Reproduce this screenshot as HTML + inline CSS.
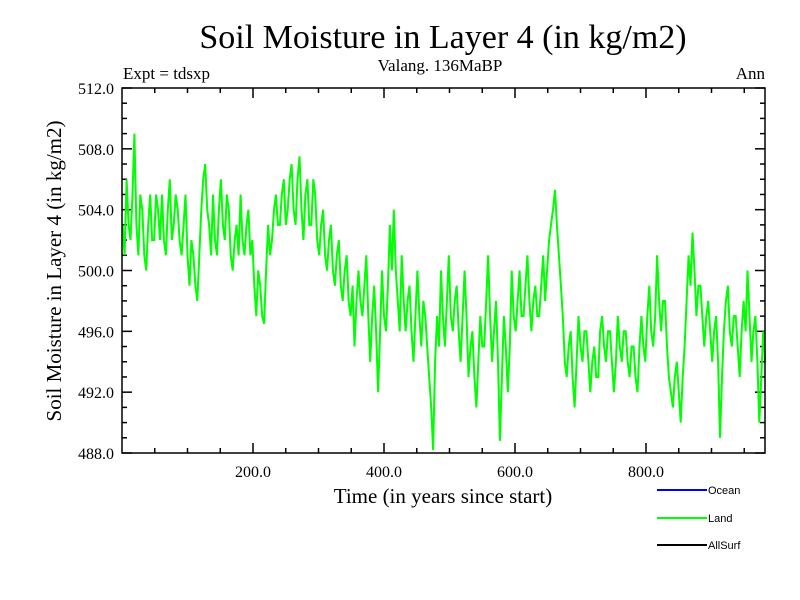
<!DOCTYPE html>
<html><head><meta charset="utf-8"><style>
body{margin:0;background:#fff}
svg{display:block;font-family:"Liberation Serif",serif}
</style></head><body>
<svg id="c" width="800" height="600">
<text x="443" y="48" font-size="34" text-anchor="middle">Soil Moisture in Layer 4 (in kg/m2)</text>
<text x="123" y="79" font-size="17">Expt = tdsxp</text>
<text x="440" y="71" font-size="17" text-anchor="middle">Valang. 136MaBP</text>
<text x="765" y="79" font-size="17" text-anchor="end">Ann</text>
<text transform="translate(61,271) rotate(-90)" font-size="21" text-anchor="middle">Soil Moisture in Layer 4 (in kg/m2)</text>
<text x="443" y="503" font-size="21" text-anchor="middle">Time (in years since start)</text>
<g id="ticks"></g>
<polyline id="series" fill="none" stroke="#00ff00" stroke-width="2"/>
<rect x="122" y="88" width="643" height="365" fill="none" stroke="#000" stroke-width="1.5"/>
<g font-family="Liberation Sans,sans-serif" font-size="11">
<line x1="657" y1="490" x2="707" y2="490" stroke="#0000ff" stroke-width="2"/>
<text x="708" y="494">Ocean</text>
<line x1="657" y1="518" x2="707" y2="518" stroke="#00ff00" stroke-width="2"/>
<text x="708" y="522">Land</text>
<line x1="657" y1="545" x2="707" y2="545" stroke="#000" stroke-width="2"/>
<text x="708" y="549">AllSurf</text>
</g>
</svg>
<script>
const values=[503,501,506,503,502,505,509,503,501,505,504,501,500,503,505,502,502,505,504,502,
505,502,501,504,506,502,503,505,504,502,501,503,505,501,499,502,501,499,498,501,
504,506,507,504,503,501,505,502,501,504,506,503,502,505,504,501,500,502,503,501,
505,502,501,503,504,501,502,499,497,500,499,497,496.5,500,503,501,502,504,505,503,
503,505,506,503,504,506,507,504,503,506,507.5,504,502,505,506,503,503,506,505,502,
501,503,504,501,500,502,503,500,499,501,502,499,498,500,501,498,497,499,495,498,
500,498,497,499,501,497,494,497,499,496,492,496,500,497,496,499,503,500,504,500,
498,496,501,498,496,498,499,496,494,497,500,497,495,498,497,495,493,491,488.2,494,
497,495,500,497,495,498,501,497,496,498,499,496,494,497,500,497,493,495,496,493,
491,494,497,495,495,498,501,497,494,496,498,494,488.8,493,497,495,492,495,500,497,
496,498,500,497,497,499,501,498,496,498,499,497,497,499,501,498,500,502,503,504,
505.3,503,501,499,497,494,493,495,496,493,491,494,497,495,494,496,496,494,492,494,
495,493,493,496,497,495,494,496,496,494,492,494,497,495,494,496,496,494,493,495,
495,493,492,495,497,495,494,497,499,496,495,497,501,498,496,498,498,495,493,492,
491,493,494,492,490,493,495,498,501,499,502.5,500,497,499,499,497,495,497,498,496,
494,496,497,494,489,493,496,498,499,496,495,497,497,495,493,496,498,496,500,497,
494,496,497,494,490,493,496,494];
const yearStep=3, yearStart=1;
const yTicks=[488,492,496,500,504,508,512];
const xTicks=[200,400,600,800];
const X0=122,X1=765,Y0=88,Y1=453,XMAX=(X1-X0)/0.655,YMIN=488,YMAX=512;
const sx=t=>X0+t/XMAX*(X1-X0);
const sy=v=>Y1-(v-YMIN)/(YMAX-YMIN)*(Y1-Y0);
const NS="http://www.w3.org/2000/svg";
const pl=document.getElementById('series');
pl.setAttribute('points',values.map((v,i)=>sx(yearStart+i*yearStep).toFixed(1)+','+sy(v).toFixed(1)).join(' '));
const g=document.getElementById('ticks');
function ln(x1,y1,x2,y2,name){const l=document.createElementNS(NS,'line');
l.setAttribute('x1',x1);l.setAttribute('y1',y1);l.setAttribute('x2',x2);l.setAttribute('y2',y2);
l.setAttribute('stroke','#000');l.setAttribute('stroke-width','1.5');


g.appendChild(l);}
function tx(x,y,s,anchor,name){const t=document.createElementNS(NS,'text');
t.setAttribute('x',x);t.setAttribute('y',y);t.setAttribute('font-size','16');t.setAttribute('text-anchor',anchor);t.textContent=s;


g.appendChild(t);}
for(let v=YMIN;v<=YMAX;v++){const y=sy(v);const L=(v%4===0)?10:5;ln(X0,y,X0+L,y,'y-tick');ln(X1,y,X1-L,y,'y-tick');}
yTicks.forEach(v=>tx(114,sy(v)+6,v.toFixed(1),'end','y-tick-label'));
for(let t=50;t<XMAX;t+=50){const x=sx(t);const L=(t%200===0)?10:5;ln(x,Y1,x,Y1-L,'x-tick');ln(x,Y0,x,Y0+L,'x-tick');}
xTicks.forEach(t=>tx(sx(t),477,t.toFixed(1),'middle','x-tick-label'));
</script>
</body></html>
